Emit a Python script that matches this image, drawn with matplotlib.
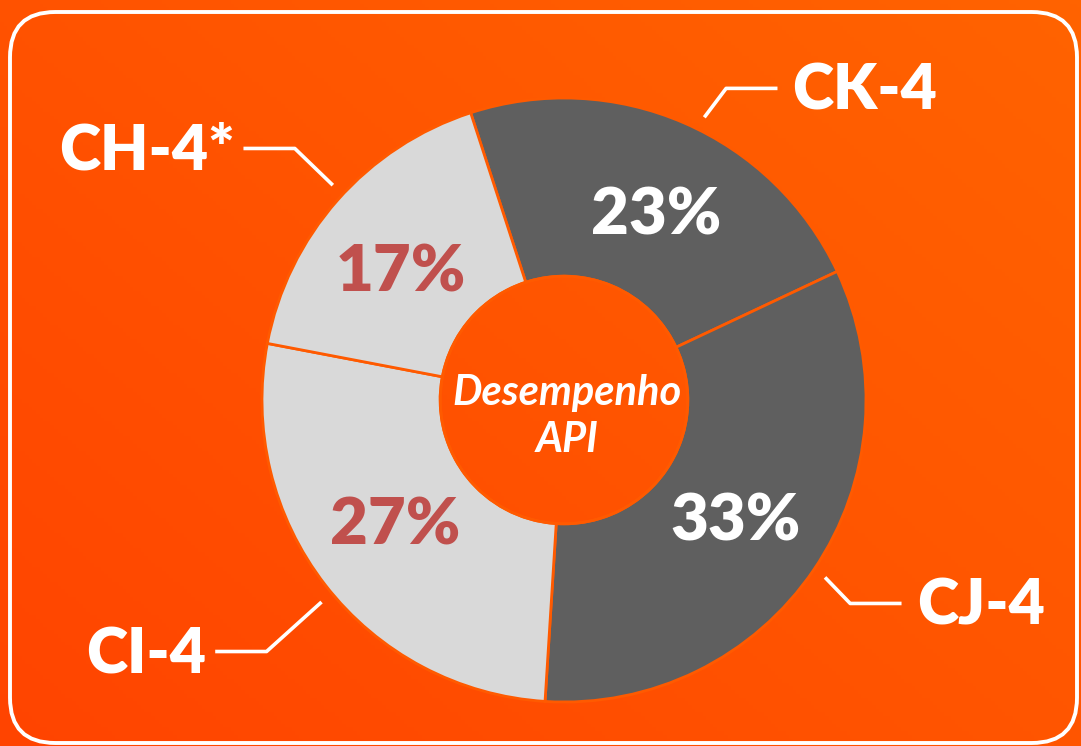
"""Donut chart: Desempenho API (share per category)."""

import numpy as np
import matplotlib
matplotlib.use('Agg')
import matplotlib.pyplot as plt
from matplotlib.patches import FancyBboxPatch, Circle
from matplotlib.colors import LinearSegmentedColormap

# data
categories = ['CK-4', 'CJ-4', 'CI-4', 'CH-4*']
shares = [23, 33, 27, 17]
slice_colors = ['#5f5f5f', '#5f5f5f', '#d9d9d9', '#d9d9d9']
pct_colors = ['white', 'white', '#c0504d', '#c0504d']
center_label = 'Desempenho\nAPI'

# label placement tweaks (deg from slice middle), leader diagonal length / angle
pct_shift = [-3, -0.6, -1.8, 2.9]
lead_shift = [-3, 0, 2, -1.5]
diag_len = [0.12, 0.12, 0.245, 0.175]
diag_ang = [53, -46, 222, 136]
side = [1, 1, -1, -1]

plt.rcParams['font.family'] = ['Lato', 'DejaVu Sans']

fig = plt.figure(figsize=(10.81, 7.46), dpi=100)
ax = fig.add_axes([0, 0, 1, 1])

# pixel frame: donut centre at (564, 400), radius 302 px
R_PX = 302
xlim = (-564 / R_PX, (1081 - 564) / R_PX)
ylim = ((400 - 746) / R_PX, 400 / R_PX)

# orange background gradient
bg = LinearSegmentedColormap.from_list('bg', ['#ff4400', '#ff5400', '#ff6300'])
gx, gy = np.meshgrid(np.linspace(0, 1, 300), np.linspace(0, 1, 200))
grad = 0.55 * gx + 0.45 * gy
ax.imshow(grad, cmap=bg, extent=(*xlim, *ylim), origin='lower', aspect='auto', zorder=0)

wedges, _ = ax.pie(shares, colors=slice_colors, startangle=108, counterclock=False,
                   radius=1.0, wedgeprops=dict(width=0.59, edgecolor='#ff5a00', linewidth=2),
                   center=(0, 0))
for w in wedges:
    w.set_zorder(2)

# inner hole outline
ax.add_patch(Circle((0, 0), 0.41, facecolor='none', edgecolor='#ff5a00', lw=2, zorder=3))

for i, (w, cat, share) in enumerate(zip(wedges, categories, shares)):
    mid = (w.theta1 + w.theta2) / 2
    a = np.deg2rad(mid + pct_shift[i])
    ax.text(0.69 * np.cos(a), 0.69 * np.sin(a) - 0.01, f'{share}%', color=pct_colors[i],
            fontsize=47, fontweight='heavy', ha='center', va='center', zorder=4)
    # leader line
    b = np.deg2rad(mid + lead_shift[i])
    x0, y0 = 1.045 * np.cos(b), 1.045 * np.sin(b)
    d = np.deg2rad(diag_ang[i])
    x1 = x0 + diag_len[i] * np.cos(d)
    y1 = y0 + diag_len[i] * np.sin(d)
    sd = side[i]
    x2 = x1 + sd * 0.17
    ax.plot([x0, x1, x2], [y0, y1, y1], color='white', lw=2.6, solid_capstyle='butt', zorder=4)
    gap = 0.05 if sd > 0 else 0.03
    ax.text(x2 + sd * gap, y1 - 0.01, cat, color='white', fontsize=45, fontweight='heavy',
            ha='left' if sd > 0 else 'right', va='center', zorder=4)

ax.text(0.01, -0.055, center_label, color='white', fontsize=30, fontweight='bold',
        fontstyle='italic', ha='center', va='center', linespacing=1.3, zorder=4)

# white rounded frame
frame = FancyBboxPatch((-554 / R_PX, -343 / R_PX), 1067 / R_PX, 731 / R_PX,
                       boxstyle='round,pad=0,rounding_size=0.15',
                       facecolor='none', edgecolor='white', lw=2.8, zorder=5)
ax.add_patch(frame)

ax.set_xlim(*xlim)
ax.set_ylim(*ylim)
ax.set_aspect('auto')
ax.axis('off')

fig.savefig('out.png', dpi=100)
